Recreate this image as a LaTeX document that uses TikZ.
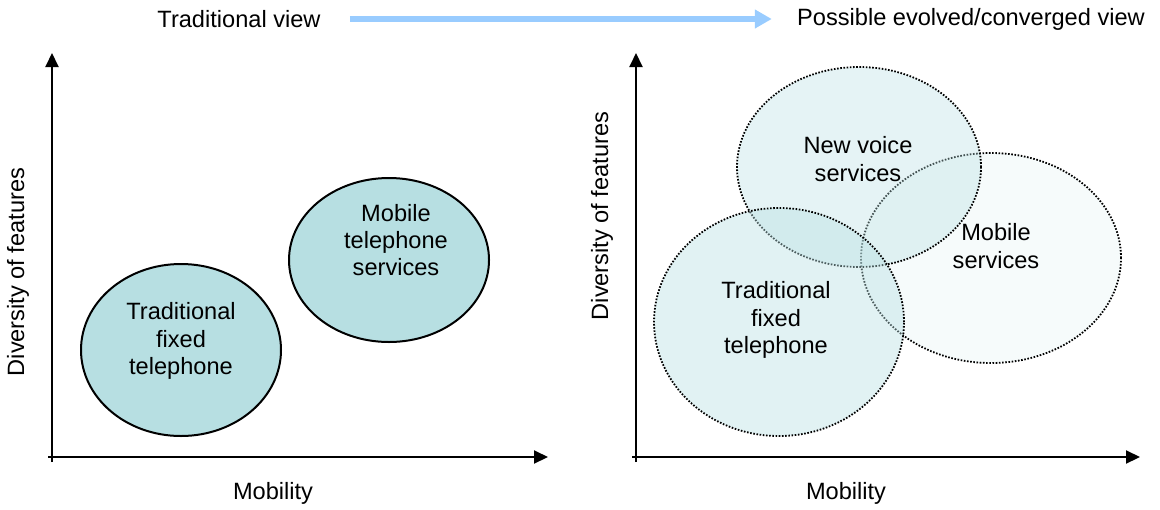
\documentclass[tikz,border=0pt]{standalone}
\usepackage{fontspec}
\setmainfont{Liberation Sans}
\usetikzlibrary{shapes.geometric, arrows.meta, positioning}
\definecolor{bubbleteal}{RGB}{183,223,226}
\definecolor{skyarrow}{RGB}{153,204,255}

\begin{document}
\begin{tikzpicture}[
  x=0.5pt, y=-0.5pt,
  txt/.style={font=\fontsize{11.8}{13.6}\selectfont, align=center, inner sep=0pt},
  solidbubble/.style={ellipse, draw=black, line width=1pt, fill=bubbleteal, inner sep=0pt},
  dotbubble/.style={ellipse, draw=black, line width=0.9pt, dash pattern=on 0.8pt off 0.8pt,
                    fill=bubbleteal, inner sep=0pt},
  axis/.style={-{Triangle[length=7pt,width=6.5pt]}, line width=1pt},
  arrow/.style={-{Triangle[length=8.5pt,width=9pt]}, line width=3.2pt, color=skyarrow}
]
\useasboundingbox (0,0) rectangle (1160,509);

% header
\node[txt] (oldview) at (239,19) {Traditional view};
\node[txt] (newview) at (971,19) {Possible evolved/converged view};
\draw[arrow] ([xshift=14.5pt]oldview.east) -- ([xshift=-12.5pt]newview.west);

% left panel
\coordinate (lybot) at (52,462);
\coordinate (lytop) at (52,53);
\coordinate (lxbeg) at (48,457);
\coordinate (lxend) at (548,457);
\draw[axis] (lybot) -- (lytop);
\draw[axis] (lxbeg) -- (lxend);
\node[txt, rotate=90] (lydiv) at (18,272) {Diversity of features};
\node[txt] (lxmob) at (273,493) {Mobility};

\node[solidbubble, minimum width=100pt, minimum height=86pt] (lfixed) at (181,350) {};
\node[solidbubble, minimum width=100pt, minimum height=82pt] (lmobile) at (389,260) {};
\node[txt] (lfixedtxt) at (181,341) {Traditional\\fixed\\telephone};
\node[txt] (lmobiletxt) at (396,240) {Mobile\\telephone\\services};

% right panel
\coordinate (rybot) at (636,462);
\coordinate (rytop) at (636,53);
\coordinate (rxbeg) at (632,457);
\coordinate (rxend) at (1140,457);
\draw[axis] (rybot) -- (rytop);
\draw[axis] (rxbeg) -- (rxend);
\node[txt, rotate=90] (rydiv) at (602,216) {Diversity of features};
\node[txt] (rxmob) at (846,493) {Mobility};

\node[dotbubble, fill opacity=0.13, minimum width=130pt, minimum height=105pt] (rmobile) at (991,258) {};
\node[dotbubble, fill opacity=0.36, minimum width=122pt, minimum height=100pt] (rvoice) at (859,167) {};
\node[dotbubble, fill opacity=0.42, minimum width=125pt, minimum height=114pt] (rfixed) at (779,322) {};
\node[txt] (rvoicetxt) at (858,159) {New voice\\services};
\node[txt] (rmobiletxt) at (996,246) {Mobile\\services};
\node[txt] (rfixedtxt) at (776,320) {Traditional\\fixed\\telephone};

\end{tikzpicture}
\end{document}
